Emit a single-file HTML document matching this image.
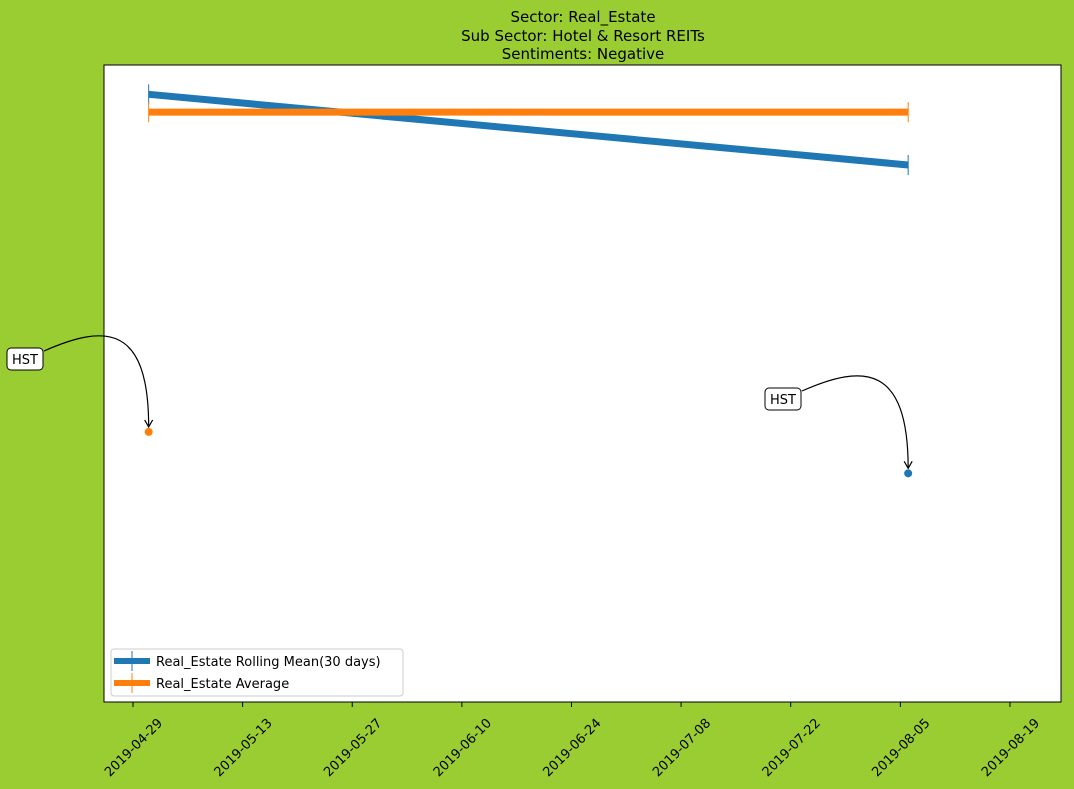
<!DOCTYPE html>
<html><head><meta charset="utf-8"><style>
body{margin:0;background:#9acd32;}
svg{display:block;font-family:"DejaVu Sans","Liberation Sans",sans-serif;}
</style></head><body>
<svg id="chart" width="1074" height="789">
<rect width="1074" height="789" fill="#9acd32"/>
<g font-size="15" text-anchor="middle" fill="#000">
<text x="583" y="22">Sector:  Real_Estate</text>
<text x="583" y="41">Sub Sector:  Hotel &amp; Resort REITs</text>
<text x="583" y="59">Sentiments:  Negative</text>
</g>
<rect x="104" y="65" width="957" height="637" fill="#fff" stroke="#000" stroke-width="1"/>
<g id="xaxis"></g>
<g id="marks"></g>
<g>
<rect x="111" y="649" width="292" height="47" rx="3" fill="#fff" stroke="#ccc"/>
<line x1="114" y1="661" x2="150" y2="661" stroke="#1f77b4" stroke-width="6"/>
<line x1="132" y1="651" x2="132" y2="671" stroke="#1f77b4" stroke-width="1"/>
<text x="156" y="666" font-size="13">Real_Estate Rolling Mean(30 days)</text>
<line x1="114" y1="683" x2="150" y2="683" stroke="#ff7f0e" stroke-width="6"/>
<line x1="132" y1="673" x2="132" y2="693" stroke="#ff7f0e" stroke-width="1"/>
<text x="156" y="688" font-size="13">Real_Estate Average</text>
</g>
</svg>
<script>
const tickLabels=["2019-04-29","2019-05-13","2019-05-27","2019-06-10","2019-06-24","2019-07-08","2019-07-22","2019-08-05","2019-08-19"];
const dates=["2019-05-01","2019-08-06"];
const rollingMean=[95.4,84.3];
const average=[92.6,92.6];
const dotDates=["2019-05-01","2019-08-06"];
const dotValues=[42.4,35.9];
const dotColors=["#ff7f0e","#1f77b4"];
const NS="http://www.w3.org/2000/svg";
const t0=Date.parse("2019-04-29");
const X=d=>133+(Date.parse(d)-t0)/86400000*7.83;
const Y=v=>702-v*6.37;
function el(tag,attrs,parent){const e=document.createElementNS(NS,tag);for(const k in attrs)e.setAttribute(k,attrs[k]);parent.appendChild(e);return e;}
const xa=document.getElementById('xaxis');
tickLabels.forEach(t=>{const x=X(t);
const l=el('line',{x1:x,y1:702,x2:x,y2:707,stroke:'#000'},xa);


const tx=el('text',{x:x,y:752,'font-size':13,'text-anchor':'middle',transform:`rotate(-45 ${x} 747)`},xa);
tx.textContent=t;

});
const m=document.getElementById('marks');
function series(vals,color,name){
const p=el('line',{x1:X(dates[0]),y1:Y(vals[0]),x2:X(dates[1]),y2:Y(vals[1]),stroke:color,'stroke-width':7},m);


vals.forEach((v,i)=>{const e=el('line',{x1:X(dates[i]),y1:Y(v)-10,x2:X(dates[i]),y2:Y(v)+10,stroke:color,'stroke-width':1},m);

});}
series(rollingMean,'#1f77b4','rolling-mean-line');
series(average,'#ff7f0e','average-line');
const boxes=[[25,359],[783,399]];
dotValues.forEach((v,i)=>{const x=X(dotDates[i]),y=Y(v);
const c=el('circle',{cx:x,cy:y,r:4,fill:dotColors[i]},m);


const [bx,by]=boxes[i];
const a=el('path',{d:`M${bx+19},${by-8} C${bx+80},${by-35} ${x},${by-35} ${x},${y-5}`,fill:'none',stroke:'#000','stroke-width':1.2},m);


const h=el('path',{d:`M${x-4},${y-12} L${x},${y-5} L${x+4},${y-12}`,fill:'none',stroke:'#000','stroke-width':1.2},m);


const r=el('rect',{x:bx-18,y:by-11,width:36,height:22,rx:4,fill:'#fff',stroke:'#000'},m);


const t=el('text',{x:bx,y:by+5,'font-size':13,'text-anchor':'middle'},m);
t.textContent='HST';

});
</script>
</body></html>
